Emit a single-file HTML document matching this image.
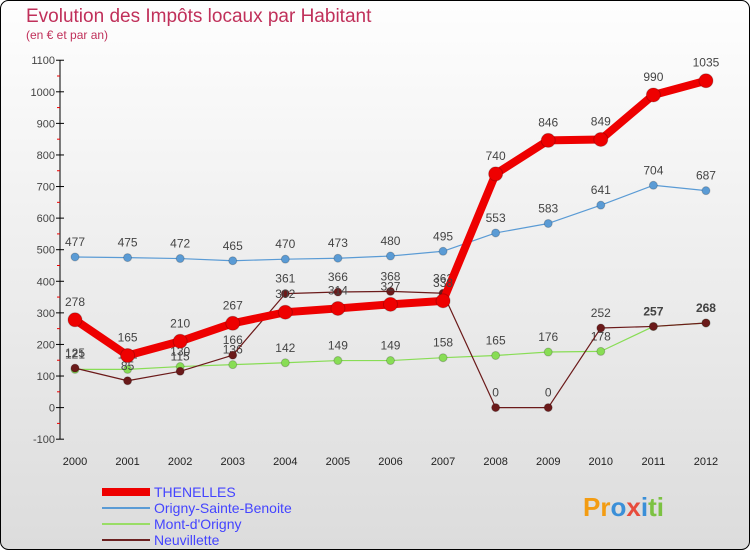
<!DOCTYPE html>
<html><head><meta charset="utf-8"><style>
body{margin:0;background:#fff}
svg text{font-family:"Liberation Sans",sans-serif}
</style></head><body>
<svg width="750" height="550" xmlns="http://www.w3.org/2000/svg">
<defs><linearGradient id="bg" x1="0" y1="0" x2="0" y2="1"><stop offset="0" stop-color="#fefefe"/><stop offset="1" stop-color="#dcdcdc"/></linearGradient></defs>
<rect x="0.5" y="0.5" width="749" height="549" rx="8" fill="url(#bg)" stroke="#000"/>
<text x="26" y="22" font-size="19" fill="#c0305a">Evolution des Impôts locaux par Habitant</text>
<text x="26" y="39" font-size="12" fill="#c0305a">(en € et par an)</text>
<g id="axes"></g><g id="series"></g>
<g>
<line x1="102" y1="492" x2="150" y2="492" stroke="#e00" stroke-width="8"/>
<text x="154" y="497" font-size="14" fill="#44f">THENELLES</text>
<line x1="102" y1="508" x2="150" y2="508" stroke="#5a9bd5" stroke-width="2"/>
<text x="154" y="513" font-size="14" fill="#44f">Origny-Sainte-Benoite</text>
<line x1="102" y1="524" x2="150" y2="524" stroke="#99dd66" stroke-width="2"/>
<text x="154" y="529" font-size="14" fill="#44f">Mont-d'Origny</text>
<line x1="102" y1="540" x2="150" y2="540" stroke="#6b2020" stroke-width="2"/>
<text x="154" y="545" font-size="14" fill="#44f">Neuvillette</text>
</g>
<text x="583" y="516" font-size="26" font-weight="bold"><tspan fill="#f39c12">Pr</tspan><tspan fill="#3a8fd8">o</tspan><tspan fill="#e74c3c">x</tspan><tspan fill="#3a8fd8">i</tspan><tspan fill="#7cc242">ti</tspan></text>
</svg>
<script>
const years=["2000","2001","2002","2003","2004","2005","2006","2007","2008","2009","2010","2011","2012"];
const yTicks=[-100,0,100,200,300,400,500,600,700,800,900,1000,1100];
const thenelles=[278,165,210,267,302,314,327,338,740,846,849,990,1035];
const origny=[477,475,472,465,470,473,480,495,553,583,641,704,687];
const mont=[121,121,130,136,142,149,149,158,165,176,178,257,268];
const neuvillette=[125,85,115,166,361,366,368,362,0,0,252,257,268];
const NS="http://www.w3.org/2000/svg";
const X=i=>75+i*52.58, Y=v=>407.6-v*0.3158;
function mk(t,a,p){const e=document.createElementNS(NS,t);for(const k in a)e.setAttribute(k,a[k]);p.appendChild(e);return e;}
const ax=document.getElementById('axes');
const axl=mk('line',{x1:60,y1:Y(1100),x2:60,y2:Y(-100),stroke:'#000'},ax);


yTicks.forEach(v=>{
 mk('line',{x1:56,y1:Y(v),x2:64,y2:Y(v),stroke:'#000'},ax);
 if(v<1100) mk('line',{x1:57,y1:Y(v+50),x2:60,y2:Y(v+50),stroke:'#e00'},ax);
 const t=mk('text',{x:55,y:Y(v)+4,'font-size':11,fill:'#444','text-anchor':'end'},ax);t.textContent=v;
 
 
});
years.forEach((y,i)=>{
 const t=mk('text',{x:X(i),y:465,'font-size':11,fill:'#222','text-anchor':'middle'},ax);t.textContent=y;
 
 
});
const sg=document.getElementById('series');
function series(d,col,w,r,name,bold){
 const g=mk('g',{},sg);
 
 
 mk('polyline',{points:d.map((v,i)=>X(i)+','+Y(v)).join(' '),fill:'none',stroke:col,'stroke-width':w,'stroke-linejoin':'round'},g);
 d.forEach((v,i)=>{
  const c=mk('circle',{cx:X(i),cy:Y(v),r:r,fill:col,stroke:'#0003'},g);
  
  
  const t=mk('text',{x:X(i),y:Y(v)-(r+7),'font-size':12,fill:'#444','text-anchor':'middle','font-weight':bold&&i>10?'bold':'normal'},g);t.textContent=v;
  
  
 });
}
series(origny,'#5a9bd5',1.2,4,'origny');
series(mont,'#88dd55',1.2,4,'mont');
series(neuvillette,'#6b1a1a',1.2,4,'neuvillette',true);
series(thenelles,'#ee0000',8,7,'thenelles');
</script>
</body></html>
